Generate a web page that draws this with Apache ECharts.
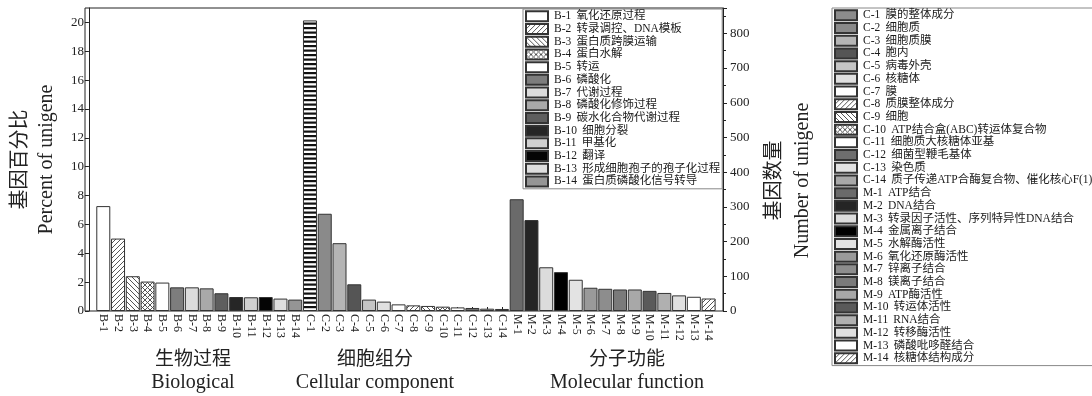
<!DOCTYPE html>
<html><head><meta charset="utf-8">
<script src="https://cdn.jsdelivr.net/npm/echarts@6/dist/echarts.min.js"></script>
<style>html,body{margin:0;padding:0;background:#fff}#c{width:1092px;height:396px}</style>
</head><body><div id="c"></div>
<script>
// ---- data ----
const bioCodes = ['B-1','B-2','B-3','B-4','B-5','B-6','B-7','B-8','B-9','B-10','B-11','B-12','B-13','B-14'];
const cellCodes = ['C-1','C-2','C-3','C-4','C-5','C-6','C-7','C-8','C-9','C-10','C-11','C-12','C-13','C-14'];
const molCodes = ['M-1','M-2','M-3','M-4','M-5','M-6','M-7','M-8','M-9','M-10','M-11','M-12','M-13','M-14'];
const bioNames = ['氧化还原过程','转录调控、DNA模板','蛋白质跨膜运输','蛋白水解','转运','磷酸化','代谢过程','磷酸化修饰过程','碳水化合物代谢过程','细胞分裂','甲基化','翻译','形成细胞孢子的孢子化过程','蛋白质磷酸化信号转导'];
const cellNames = ['膜的整体成分','细胞质','细胞质膜','胞内','病毒外壳','核糖体','膜','质膜整体成分','细胞','ATP结合盒(ABC)转运体复合物','细胞质大核糖体亚基','细菌型鞭毛基体','染色质','质子传递ATP合酶复合物、催化核心F(1)'];
const molNames = ['ATP结合','DNA结合','转录因子活性、序列特异性DNA结合','金属离子结合','水解酶活性','氧化还原酶活性','锌离子结合','镁离子结合','ATP酶活性','转运体活性','RNA结合','转移酶活性','磷酸吡哆醛结合','核糖体结构成分'];
const bioPercent = [7.27,5.02,2.41,2.04,1.97,1.64,1.64,1.57,1.23,0.97,0.95,0.97,0.86,0.79];
const cellPercent = [20.14,6.74,4.70,1.85,0.79,0.65,0.46,0.39,0.35,0.30,0.25,0.21,0.16,0.14];
const molCount = [322,262,126,112,90,67,64,62,62,58,52,45,41,36];
const groupLabelsZh = ['生物过程','细胞组分','分子功能'];
const groupLabelsEn = ['Biological','Cellular component','Molecular function'];
const leftAxisName = ['基因百分比','Percent of unigene'];
const rightAxisName = ['基因数量','Number of unigene'];
const leftMax = 21, leftInterval = 2;
const rightMax = 873, rightInterval = 100;

// ---- styles ----
const bioFills = ['#ffffff','/','\\','x','#ffffff','#7d7d7d','#dcdcdc','#a9a9a9','#5e5e5e','#262626','#d0d0d0','#050505','#dedede','#959595'];
const cellFills = ['=','#8a8a8a','#b5b5b5','#555555','#c5c5c5','#e0e0e0','#ffffff','/','\\','x','#ffffff','#6e6e6e','#e3e3e3','#a8a8a8'];
const molFills = ['#6a6a6a','#252525','#dcdcdc','#000000','#e3e3e3','#9a9a9a','#8d8d8d','#7a7a7a','#a8a8a8','#5a5a5a','#b0b0b0','#e0e0e0','#ffffff','/'];
const legendOverride = {'C-1':'#8c8c8c'};

function pattern(kind){
  const c = document.createElement('canvas');
  const n = kind === '=' ? 9 : 5;
  c.width = n; c.height = n;
  const g = c.getContext('2d');
  g.fillStyle = '#fff'; g.fillRect(0,0,n,n);
  g.strokeStyle = '#555'; g.lineWidth = 1;
  if (kind === '=') {
    g.fillStyle = '#111';
    g.fillRect(0,0,n,2.2); g.fillRect(0,4.5,n,2.2);
  } else {
    if (kind === '/' || kind === 'x') {
      g.beginPath(); g.moveTo(-1,n+1); g.lineTo(n+1,-1);
      g.moveTo(-1,1); g.lineTo(1,-1); g.moveTo(n-1,n+1); g.lineTo(n+1,n-1); g.stroke();
    }
    if (kind === '\\' || kind === 'x') {
      g.beginPath(); g.moveTo(-1,-1); g.lineTo(n+1,n+1);
      g.moveTo(n-1,-1); g.lineTo(n+1,1); g.moveTo(-1,n-1); g.lineTo(1,n+1); g.stroke();
    }
  }
  return {image: c, repeat: 'repeat'};
}
function fillOf(f){ return f[0] === '#' ? f : pattern(f); }

const codes = bioCodes.concat(cellCodes, molCodes);
const names = bioNames.concat(cellNames, molNames);
const fills = bioFills.concat(cellFills, molFills);
const values = bioPercent.concat(cellPercent, molCount);
const nB = bioCodes.length + cellCodes.length;

const serif = "'Liberation Serif','Noto Sans CJK SC',serif";
const series = codes.map((code, i) => {
  const data = codes.map((_, j) => j === i ? values[i] : '-');
  return {
    type: 'bar', name: code + ' ' + names[i],
    xAxisIndex: 1, yAxisIndex: i < nB ? 1 : 2,
    barWidth: 14, barGap: '-100%',
    data: data, silent: true,
    itemStyle: {color: fillOf(fills[i]), borderColor: '#333', borderWidth: 1}
  };
});
function legendData(list){
  return list.map(i => {
    const nm = codes[i] + ' ' + names[i];
    return legendOverride[codes[i]] ? {name: nm, itemStyle: {color: legendOverride[codes[i]]}} : nm;
  });
}
const idx = codes.map((_, i) => i);
const legendCommon = {
  orient: 'vertical', icon: 'rect', itemWidth: 22, itemHeight: 10, itemGap: 0,
  selectedMode: false, borderColor: '#888', borderWidth: 1, backgroundColor: '#fff',
  formatter: n => n.replace(' ', ' \u2009'),
  textStyle: {fontFamily: serif, fontSize: 11.5, color: '#1a1a1a', lineHeight: 10.7, padding: [2,0,0,1]}
};

const chart = echarts.init(document.getElementById('c'), null, {renderer: 'canvas'});
const groupCenters = [193, 375, 627];
const graphics = [];
groupLabelsZh.forEach((t, k) => {
  graphics.push({type: 'text', x: groupCenters[k], y: 358, silent: true,
    style: {text: t, textAlign: 'center', textVerticalAlign: 'middle', font: "19px 'Noto Sans CJK SC'", fill: '#222'}});
  graphics.push({type: 'text', x: groupCenters[k], y: 383, silent: true,
    style: {text: groupLabelsEn[k], textAlign: 'center', textVerticalAlign: 'middle', font: "20px 'Liberation Serif'", fill: '#222'}});
});

chart.setOption({
  animation: false,
  backgroundColor: '#fff',
  grid: [
    {left: 85, top: 8, width: 638, height: 303, show: true, borderColor: '#222', borderWidth: 1, backgroundColor: 'transparent'},
    {left: 92, top: 8, width: 624, height: 303}
  ],
  xAxis: [
    {gridIndex: 0, type: 'value', show: false},
    {gridIndex: 1, type: 'category', data: codes,
      axisLine: {show: false},
      axisTick: {show: true, inside: true, alignWithLabel: true, length: 4, lineStyle: {color: '#222'}},
      axisLabel: {rotate: -90, interval: 0, margin: 3, fontFamily: serif, fontSize: 12, color: '#222'}}
  ],
  yAxis: [
    {gridIndex: 0, type: 'value', show: false},
    {gridIndex: 1, type: 'value', position: 'left', offset: 7, min: 0, max: leftMax, interval: leftInterval,
      name: leftAxisName.join('\n'), nameLocation: 'middle', nameRotate: 90, nameGap: 28,
      nameTextStyle: {fontFamily: serif, fontSize: 20, lineHeight: 26, color: '#222'},
      axisLine: {show: true, lineStyle: {color: '#222'}},
      axisTick: {show: true, length: 4, lineStyle: {color: '#222'}},
      axisLabel: {margin: 5, showMaxLabel: false, fontFamily: serif, fontSize: 13, color: '#222'},
      splitLine: {show: false}},
    {gridIndex: 1, type: 'value', position: 'right', offset: 7, min: 0, max: rightMax, interval: rightInterval,
      name: rightAxisName.join('\n'), nameLocation: 'middle', nameRotate: 90, nameGap: 33,
      nameTextStyle: {fontFamily: serif, fontSize: 20, lineHeight: 28, color: '#222', padding: [0, 42, 0, 0]},
      axisLine: {show: true, lineStyle: {color: '#222'}},
      axisTick: {show: true, length: 4, lineStyle: {color: '#222'}},
      minorTick: {show: true, splitNumber: 2, length: 3, lineStyle: {color: '#222'}},
      axisLabel: {margin: 7, showMaxLabel: false, fontFamily: serif, fontSize: 13, color: '#222'},
      splitLine: {show: false}}
  ],
  legend: [
    Object.assign({}, legendCommon, {left: 523, top: 9, padding: [1, 2, 1, 2], data: legendData(idx.slice(0, 14))}),
    Object.assign({}, legendCommon, {left: 832, top: 8, padding: [1, 80, 1, 2], data: legendData(idx.slice(14))})
  ],
  graphic: graphics,
  series: series
});
</script></body></html>
